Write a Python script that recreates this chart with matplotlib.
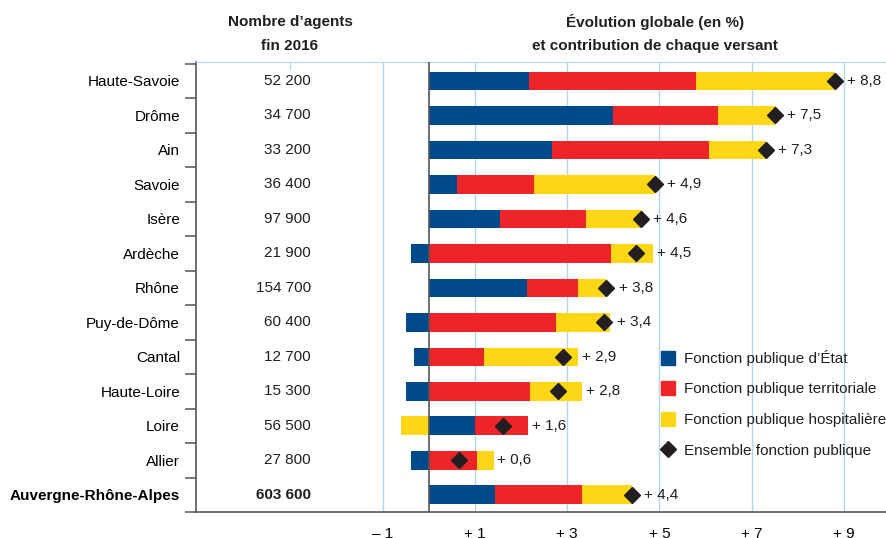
import numpy as np
import matplotlib
matplotlib.use('Agg')
import matplotlib.pyplot as plt
from matplotlib.lines import Line2D

plt.rcParams['font.family'] = ['Liberation Sans', 'DejaVu Sans']
plt.rcParams['text.color'] = '#231f20'

departements = ['Haute-Savoie', 'Drôme', 'Ain', 'Savoie', 'Isère', 'Ardèche', 'Rhône',
                'Puy-de-Dôme', 'Cantal', 'Haute-Loire', 'Loire', 'Allier', 'Auvergne-Rhône-Alpes']
agents = ['52 200', '34 700', '33 200', '36 400', '97 900', '21 900', '154 700',
          '60 400', '12 700', '15 300', '56 500', '27 800', '603 600']
fpe = [2.18, 3.99, 2.67, 0.62, 1.55, -0.38, 2.13, -0.49, -0.32, -0.49, 1.00, -0.38, 1.44]
fpt = [3.61, 2.28, 3.41, 1.67, 1.86, 3.95, 1.11, 2.76, 1.20, 2.20, 1.15, 1.04, 1.88]
fph = [3.01, 1.25, 1.23, 2.61, 1.22, 0.91, 0.62, 1.17, 2.04, 1.13, -0.60, 0.37, 1.08]
ensemble = [8.8, 7.5, 7.3, 4.9, 4.6, 4.5, 3.85, 3.8, 2.9, 2.8, 1.6, 0.65, 4.4]
etiquettes = ['+ 8,8', '+ 7,5', '+ 7,3', '+ 4,9', '+ 4,6', '+ 4,5', '+ 3,8',
              '+ 3,4', '+ 2,9', '+ 2,8', '+ 1,6', '+ 0,6', '+ 4,4']
xticks = [-1, 1, 3, 5, 7, 9]
xlabels = ['– 1', '+ 1', '+ 3', '+ 5', '+ 7', '+ 9']

couleurs = ['#004a8c', '#ee2428', '#fdd715']
noms = ['Fonction publique d’État', 'Fonction publique territoriale',
        'Fonction publique hospitalière']
grille = '#aed6f1'
gris = '#555555'

fig = plt.figure(figsize=(8.87, 5.38), dpi=100)
ax = fig.add_axes([0.221, 0.0483, 0.779, 0.8365])

y = np.arange(len(departements))
pos = np.zeros(len(y))
neg = np.zeros(len(y))
for vals, c in zip([fpe, fpt, fph], couleurs):
    v = np.array(vals)
    left = np.where(v >= 0, pos, neg + v)
    ax.barh(y, np.abs(v), left=left, height=0.54, color=c, zorder=3)
    pos = pos + np.where(v >= 0, v, 0)
    neg = neg + np.where(v < 0, v, 0)

ax.plot(ensemble, y, 'D', color='#231f20', ms=8.5, zorder=4)

fs = 11
for i in range(len(y)):
    xt = max(ensemble[i] + 0.27, pos[i] + 0.08)
    ax.text(xt, y[i], etiquettes[i], va='center', ha='left', fontsize=fs, zorder=5)
    ax.text(-2.55, y[i], agents[i], va='center', ha='right', fontsize=fs,
            fontweight='bold' if i == len(y) - 1 else 'normal')

for xv in xticks:
    ax.axvline(xv, color=grille, lw=1, zorder=1)
ax.axvline(-3, ymin=0.985, ymax=1, color=grille, lw=1, zorder=1)
ax.axvline(0, color=gris, lw=1.2, zorder=4)

ax.set_xlim(-5.04, 9.93)
ax.set_ylim(12.5, -0.55)

ax.set_yticks(y)
ax.set_yticklabels(departements, fontsize=fs)
ax.get_yticklabels()[-1].set_fontweight('bold')
ax.set_yticks(np.arange(-0.5, 12.6, 1), minor=True)
ax.tick_params(axis='y', which='major', length=0, pad=11.5)
ax.tick_params(axis='y', which='minor', length=8, width=1.1, color=gris)

ax.set_xticks(xticks)
ax.set_xticklabels(xlabels, fontsize=fs)
ax.tick_params(axis='x', length=0, pad=11)

ax.spines['right'].set_visible(False)
ax.spines['top'].set_color(grille)
ax.spines['left'].set_color(gris)
ax.spines['bottom'].set_color(gris)
ax.spines['left'].set_linewidth(1.2)
ax.spines['bottom'].set_linewidth(1.2)

fig.text(290 / 887, 1 - 22 / 538, 'Nombre d’agents', ha='center', va='center',
         fontsize=fs, fontweight='bold')
fig.text(290 / 887, 1 - 46 / 538, 'fin 2016', ha='center', va='center',
         fontsize=fs, fontweight='bold')
fig.text(655 / 887, 1 - 22 / 538, 'Évolution globale (en %)', ha='center', va='center',
         fontsize=fs, fontweight='bold')
fig.text(655 / 887, 1 - 46 / 538, 'et contribution de chaque versant', ha='center',
         va='center', fontsize=fs, fontweight='bold')

handles = [Line2D([], [], ls='none', marker='s', ms=10, color=c) for c in couleurs]
handles.append(Line2D([], [], ls='none', marker='D', ms=8.5, color='#231f20'))
ax.legend(handles, noms + ['Ensemble fonction publique'], loc='upper left',
          bbox_to_anchor=(660 / 887, 1 - 350 / 538), bbox_transform=fig.transFigure,
          frameon=False, fontsize=fs, handlelength=1.1, handletextpad=0.45,
          labelspacing=1.08, borderpad=0, borderaxespad=0)

fig.savefig('out.png', dpi=100)
